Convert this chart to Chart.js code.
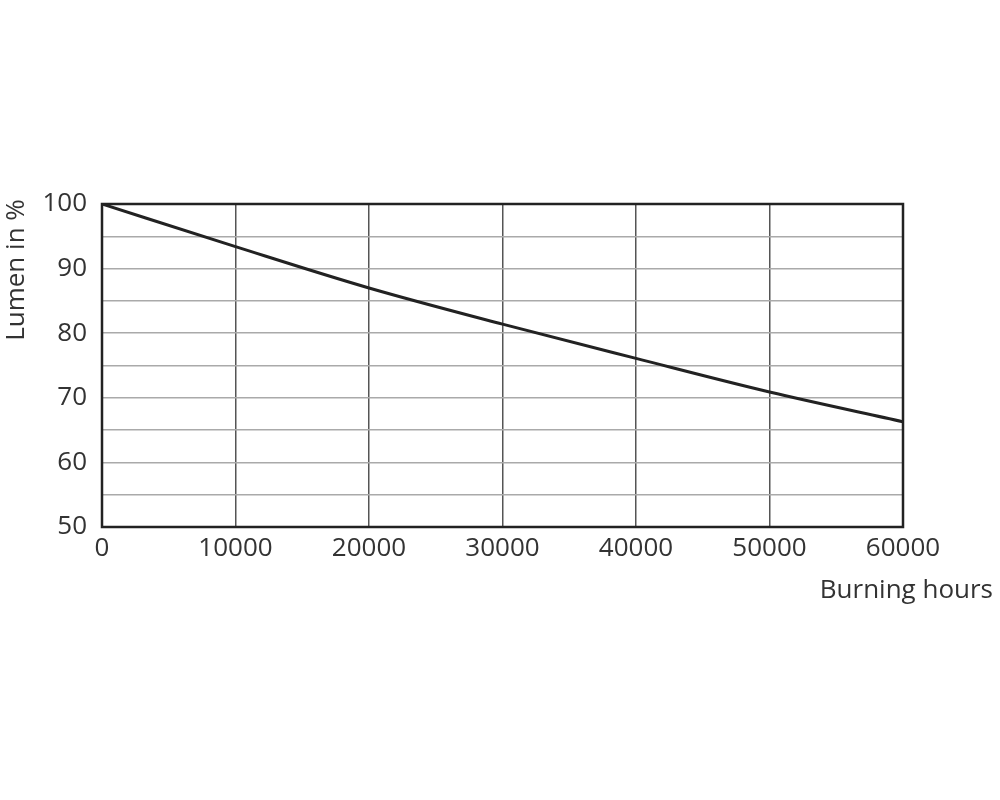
<!DOCTYPE html>
<html>
<head>
<meta charset="utf-8">
<script src="https://cdn.jsdelivr.net/npm/chart.js@4/dist/chart.umd.min.js"></script>
<style>
    html, body { margin: 0; padding: 0; background: #fff; }
    #wrap { width: 1000px; height: 800px; }
</style>
</head>
<body>
<div id="wrap"><canvas id="chart" width="1000" height="800"></canvas></div>
<script>
    // --- Data ---
    const burningHours = [0, 10000, 20000, 30000, 40000, 50000, 60000];
    const lumenPercent = [100, 93.4, 87.0, 81.4, 76.1, 70.9, 66.3];
    const xTicks = [0, 10000, 20000, 30000, 40000, 50000, 60000];
    const yTicks = [50, 60, 70, 80, 90, 100];
    const yTitle = 'Lumen in %';
    const xTitle = 'Burning hours';

    const textColor = '#333';
    const fontFamily = '"Open Sans", "Noto Sans", sans-serif';

    // Draws the frame round the plot and the two axis titles
    const framePlugin = {
        id: 'frame',
        afterDatasetsDraw: (chart) => {
            const { ctx, chartArea: a } = chart;
            ctx.save();
            ctx.strokeStyle = '#222';
            ctx.lineWidth = 2.5;
            ctx.strokeRect(a.left, a.top, a.right - a.left, a.bottom - a.top);
            ctx.restore();
        },
        afterDraw: (chart) => {
            const { ctx } = chart;
            ctx.save();
            ctx.fillStyle = textColor;
            ctx.font = '26px ' + fontFamily;
            // y title, rotated
            ctx.translate(24, 270);
            ctx.rotate(-Math.PI / 2);
            ctx.textAlign = 'center';
            ctx.textBaseline = 'alphabetic';
            ctx.fillText(yTitle, 0, 0);
            ctx.restore();

            ctx.save();
            ctx.fillStyle = textColor;
            ctx.font = '26px ' + fontFamily;
            ctx.textAlign = 'right';
            ctx.textBaseline = 'alphabetic';
            ctx.fillText(xTitle, 993, 598);
            ctx.restore();
        }
    };

    new Chart(document.getElementById('chart').getContext('2d'), {
        type: 'line',
        data: {
            datasets: [{
                data: burningHours.map((h, i) => ({ x: h, y: lumenPercent[i] })),
                borderColor: '#222',
                borderWidth: 3,
                pointRadius: 0,
                cubicInterpolationMode: 'monotone',
                fill: false
            }]
        },
        options: {
            responsive: false,
            animation: false,
            layout: { padding: { left: 0, top: 204, right: 97, bottom: 213 } },
            plugins: {
                legend: { display: false },
                tooltip: { enabled: false }
            },
            scales: {
                x: {
                    type: 'linear',
                    min: 0,
                    max: 60000,
                    afterBuildTicks: (scale) => { scale.ticks = xTicks.map(v => ({ value: v })); },
                    afterFit: (scale) => { scale.height = 60; },
                    grid: { color: '#555', lineWidth: 1.5, drawTicks: false },
                    border: { display: false },
                    ticks: {
                        color: textColor,
                        font: { family: fontFamily, size: 26 },
                        padding: 6,
                        maxRotation: 0,
                        autoSkip: false,
                        callback: (v) => String(v)
                    }
                },
                y: {
                    min: 50,
                    max: 100,
                    afterBuildTicks: (scale) => {
                        const t = [];
                        for (let v = 50; v <= 100; v += 5) t.push({ value: v });
                        scale.ticks = t;
                    },
                    afterFit: (scale) => { scale.width = 102; },
                    grid: { color: '#aaa', lineWidth: 1.5, drawTicks: false },
                    border: { display: false },
                    ticks: {
                        color: textColor,
                        font: { family: fontFamily, size: 26 },
                        padding: 15,
                        autoSkip: false,
                        callback: (v) => yTicks.includes(v) ? String(v) : ''
                    }
                }
            }
        },
        plugins: [framePlugin]
    });
</script>
</body>
</html>
